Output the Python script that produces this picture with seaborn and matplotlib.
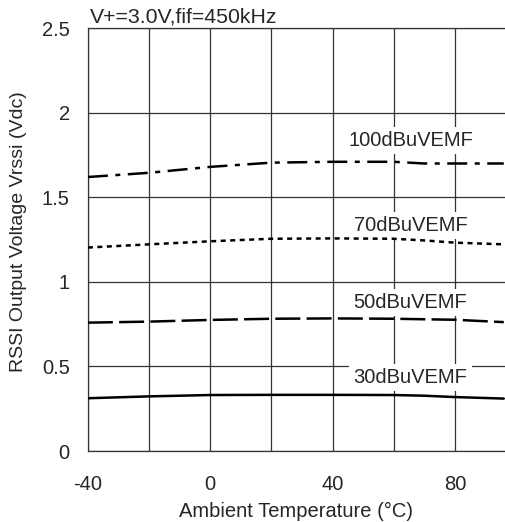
import pandas as pd
import matplotlib
matplotlib.use("Agg")
import matplotlib.pyplot as plt
import seaborn as sns

temps = [-40, -20, 0, 20, 40, 60, 70, 80, 96]
v_100 = [1.62, 1.645, 1.68, 1.705, 1.71, 1.71, 1.70, 1.70, 1.70]
v_70 = [1.203, 1.222, 1.24, 1.255, 1.257, 1.255, 1.245, 1.232, 1.222]
v_50 = [0.759, 0.765, 0.775, 0.782, 0.784, 0.782, 0.779, 0.776, 0.762]
v_30 = [0.312, 0.323, 0.331, 0.332, 0.332, 0.331, 0.327, 0.319, 0.31]

series_names = ["100dBuVEMF", "70dBuVEMF", "50dBuVEMF", "30dBuVEMF"]
label_y = [1.805, 1.302, 0.846, 0.402]
label_x = 65.5

x_ticks = list(range(-40, 100, 20))
x_ticklabels = ["-40", "", "0", "", "40", "", "80"]
y_ticks = [0, 0.5, 1, 1.5, 2, 2.5]
y_ticklabels = ["0", "0.5", "1", "1.5", "2", "2.5"]

FS = 14.5

sns.set_style("white")
plt.rcParams["font.family"] = ["Liberation Sans", "DejaVu Sans"]

fig = plt.figure(figsize=(5.05, 5.22), dpi=100)
ax = fig.add_axes([0.174, 0.136, 0.826, 0.81])

# line styles: dash-dot, dotted, dashed, solid
styles = [
    (0, (8, 3, 2, 3)),
    (0, (2, 1.8)),
    (0, (10, 2.5)),
    "-",
]
values = [v_100, v_70, v_50, v_30]
for name, vals, ls in zip(series_names, values, styles):
    sns.lineplot(x=temps, y=vals, ax=ax, color="black", linewidth=1.8,
                 linestyle=ls, zorder=3)

for name, ly in zip(series_names, label_y):
    ax.text(label_x, ly, name, ha="center", va="baseline", fontsize=FS,
            bbox=dict(facecolor="white", edgecolor="none", pad=3), zorder=2)

ax.set_xlim(-40, 96.4)
ax.set_ylim(0, 2.5)
ax.set_xticks(x_ticks)
ax.set_xticklabels(x_ticklabels)
ax.set_yticks(y_ticks)
ax.set_yticklabels(y_ticklabels)
ax.tick_params(length=0, labelsize=FS)
ax.tick_params(axis="x", pad=17)
ax.tick_params(axis="y", pad=13)
ax.grid(True, color="#333333", linewidth=0.9)
ax.set_axisbelow(True)
for side in ["left", "bottom", "top"]:
    ax.spines[side].set_color("#333333")
    ax.spines[side].set_linewidth(0.9)
ax.spines["right"].set_visible(False)

ax.set_xlabel("Ambient Temperature (°C)", fontsize=FS, labelpad=6)
ax.set_ylabel("RSSI Output Voltage Vrssi (Vdc)", fontsize=14, labelpad=12)
ax.yaxis.set_label_coords(-0.145, 0.52)
ax.text(0.005, 1.013, "V+=3.0V,fif=450kHz", transform=ax.transAxes,
        ha="left", va="baseline", fontsize=15.3)

fig.savefig("out.png", dpi=100)
